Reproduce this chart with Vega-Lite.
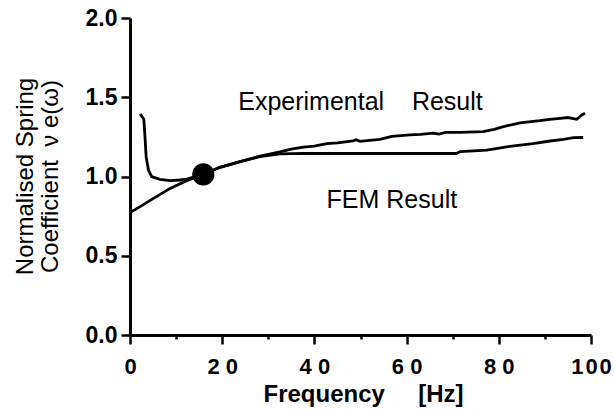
{
  "$schema": "https://vega.github.io/schema/vega-lite/v6.json",
  "width": 461,
  "height": 317,
  "autosize": "none",
  "padding": {"left": 130, "top": 18, "right": 23, "bottom": 75},
  "background": "white",
  "config": {
    "view": {"stroke": null},
    "font": "Liberation Sans",
    "axis": {
      "grid": false,
      "domainColor": "black",
      "domainWidth": 3,
      "tickColor": "black",
      "tickWidth": 2.5,
      "labelColor": "black",
      "titleColor": "black",
      "labelFont": "Liberation Sans",
      "titleFont": "Liberation Sans"
    }
  },
  "datasets": {
    "curves": [
      {"series": "Experimental", "f": 2.2, "v": 1.394},
      {"series": "Experimental", "f": 3.0, "v": 1.361},
      {"series": "Experimental", "f": 3.25, "v": 1.251},
      {"series": "Experimental", "f": 3.5, "v": 1.125},
      {"series": "Experimental", "f": 4.0, "v": 1.041},
      {"series": "Experimental", "f": 4.7, "v": 0.999},
      {"series": "Experimental", "f": 6.5, "v": 0.982},
      {"series": "Experimental", "f": 8.7, "v": 0.974},
      {"series": "Experimental", "f": 10.8, "v": 0.978},
      {"series": "Experimental", "f": 12.3, "v": 0.984},
      {"series": "Experimental", "f": 15.9, "v": 1.013},
      {"series": "Experimental", "f": 19.5, "v": 1.058},
      {"series": "Experimental", "f": 23.9, "v": 1.094},
      {"series": "Experimental", "f": 28.2, "v": 1.129},
      {"series": "Experimental", "f": 32.5, "v": 1.155},
      {"series": "Experimental", "f": 35.0, "v": 1.172},
      {"series": "Experimental", "f": 37.6, "v": 1.186},
      {"series": "Experimental", "f": 40.0, "v": 1.192},
      {"series": "Experimental", "f": 42.7, "v": 1.207},
      {"series": "Experimental", "f": 45.0, "v": 1.212},
      {"series": "Experimental", "f": 48.4, "v": 1.224},
      {"series": "Experimental", "f": 49.0, "v": 1.232},
      {"series": "Experimental", "f": 49.9, "v": 1.222},
      {"series": "Experimental", "f": 52.0, "v": 1.228},
      {"series": "Experimental", "f": 54.2, "v": 1.234},
      {"series": "Experimental", "f": 56.8, "v": 1.253},
      {"series": "Experimental", "f": 60.7, "v": 1.262},
      {"series": "Experimental", "f": 63.0, "v": 1.266},
      {"series": "Experimental", "f": 65.8, "v": 1.274},
      {"series": "Experimental", "f": 67.0, "v": 1.268},
      {"series": "Experimental", "f": 68.5, "v": 1.278},
      {"series": "Experimental", "f": 71.6, "v": 1.279},
      {"series": "Experimental", "f": 76.6, "v": 1.283},
      {"series": "Experimental", "f": 79.0, "v": 1.298},
      {"series": "Experimental", "f": 81.0, "v": 1.314},
      {"series": "Experimental", "f": 84.6, "v": 1.339},
      {"series": "Experimental", "f": 86.5, "v": 1.345},
      {"series": "Experimental", "f": 88.9, "v": 1.352},
      {"series": "Experimental", "f": 91.0, "v": 1.360},
      {"series": "Experimental", "f": 93.3, "v": 1.367},
      {"series": "Experimental", "f": 95.0, "v": 1.372},
      {"series": "Experimental", "f": 96.9, "v": 1.361},
      {"series": "Experimental", "f": 98.0, "v": 1.388},
      {"series": "Experimental", "f": 98.7, "v": 1.399},
      {"series": "FEM", "f": 0.0, "v": 0.772},
      {"series": "FEM", "f": 2.2, "v": 0.81},
      {"series": "FEM", "f": 5.1, "v": 0.862},
      {"series": "FEM", "f": 8.7, "v": 0.925},
      {"series": "FEM", "f": 12.3, "v": 0.974},
      {"series": "FEM", "f": 15.9, "v": 1.013},
      {"series": "FEM", "f": 19.5, "v": 1.058},
      {"series": "FEM", "f": 23.9, "v": 1.094},
      {"series": "FEM", "f": 28.2, "v": 1.125},
      {"series": "FEM", "f": 32.5, "v": 1.143},
      {"series": "FEM", "f": 37.6, "v": 1.146},
      {"series": "FEM", "f": 49.9, "v": 1.145},
      {"series": "FEM", "f": 70.8, "v": 1.145},
      {"series": "FEM", "f": 71.6, "v": 1.157},
      {"series": "FEM", "f": 77.4, "v": 1.167},
      {"series": "FEM", "f": 82.4, "v": 1.19},
      {"series": "FEM", "f": 87.4, "v": 1.207},
      {"series": "FEM", "f": 91.1, "v": 1.224},
      {"series": "FEM", "f": 94.0, "v": 1.234},
      {"series": "FEM", "f": 96.2, "v": 1.245},
      {"series": "FEM", "f": 98.3, "v": 1.246}
    ],
    "marker": [{"f": 15.9, "v": 1.013}],
    "notes": [
      {"f": 50.0, "v": 1.42, "label": "Experimental\u00a0\u00a0\u00a0\u00a0Result"},
      {"f": 56.8, "v": 0.80, "label": "FEM Result"}
    ]
  },
  "layer": [
    {
      "data": {"name": "curves"},
      "mark": {"type": "line", "color": "black", "strokeWidth": 2.8, "interpolate": "linear"},
      "encoding": {
        "x": {
          "field": "f", "type": "quantitative",
          "scale": {"domain": [0, 100], "nice": false, "zero": false},
          "axis": {
            "values": [0, 10, 20, 30, 40, 50, 60, 70, 80, 90, 100],
            "labelExpr": "datum.value % 20 !== 0 ? '' : (datum.value === 100 ? join(split(datum.label, ''), '\u200a') : join(split(datum.label, ''), ' '))",
            "labelFlush": false,
            "labelOverlap": false,
            "labelBound": false,
            "labelFontSize": 22,
            "labelFontWeight": "bold",
            "labelPadding": 12,
            "tickSize": {"condition": {"test": "datum.value % 20 !== 0", "value": 4}, "value": 9},
            "title": "Frequency\u00a0\u00a0\u00a0\u00a0\u00a0[Hz]",
            "titleFontSize": 24,
            "titleFontWeight": "bold",
            "titleBaseline": "alphabetic",
            "titleY": 66,
            "titleX": 233
          }
        },
        "y": {
          "field": "v", "type": "quantitative",
          "scale": {"domain": [0, 2], "nice": false, "zero": false},
          "axis": {
            "values": [0, 0.25, 0.5, 0.75, 1, 1.25, 1.5, 1.75, 2],
            "labelExpr": "datum.value % 0.5 === 0 ? format(datum.value, '.1f') : ''",
            "labelOverlap": false,
            "labelBound": false,
            "labelFlush": false,
            "labelFontSize": 23,
            "labelFontWeight": "bold",
            "labelPadding": 4,
            "tickSize": {"condition": {"test": "datum.value % 0.5 !== 0", "value": 4}, "value": 9},
            "title": ["Normalised Spring", "Coefficient\u00a0\u00a0ν\u00a0e(ω)"],
            "titleFontSize": 24,
            "titleFontWeight": "normal",
            "titleAngle": -90,
            "titleBaseline": "alphabetic",
            "titleLineHeight": 25,
            "titleX": -98,
            "titleY": 158
          }
        },
        "detail": {"field": "series"}
      }
    },
    {
      "data": {"name": "marker"},
      "mark": {"type": "point", "filled": true, "color": "black", "opacity": 1, "size": 490, "shape": "circle"},
      "encoding": {
        "x": {"field": "f", "type": "quantitative"},
        "y": {"field": "v", "type": "quantitative"}
      }
    },
    {
      "data": {"name": "notes"},
      "mark": {"type": "text", "font": "Liberation Sans", "fontSize": 25, "color": "black", "align": "center", "baseline": "alphabetic"},
      "encoding": {
        "x": {"field": "f", "type": "quantitative"},
        "y": {"field": "v", "type": "quantitative"},
        "text": {"field": "label"}
      }
    }
  ]
}
